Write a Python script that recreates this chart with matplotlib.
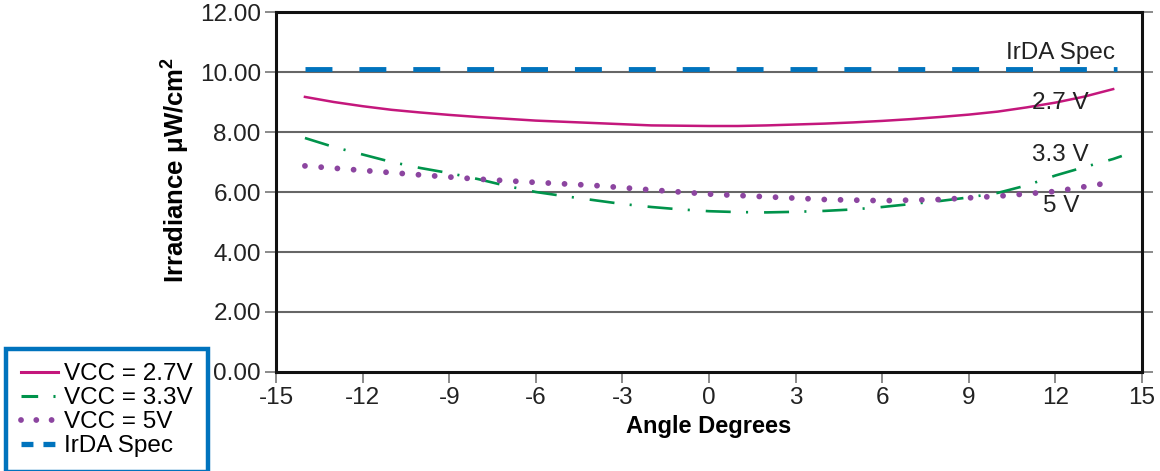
import matplotlib
matplotlib.use('Agg')
import matplotlib.pyplot as plt
from matplotlib.lines import Line2D

plt.rcParams['font.family'] = ['Liberation Sans', 'DejaVu Sans']
plt.rcParams['axes.unicode_minus'] = False
plt.rcParams['lines.scale_dashes'] = False
plt.rcParams['mathtext.fontset'] = 'custom'
plt.rcParams['mathtext.bf'] = 'Liberation Sans:bold'
plt.rcParams['mathtext.rm'] = 'Liberation Sans'

# VCC = 2.7V
x_27 = [-14, -13, -12, -11, -10, -9, -8, -7, -6, -5, -4, -3, -2, -1, 0,
        1, 2, 3, 4, 5, 6, 7, 8, 9, 10, 11, 12, 13, 14]
y_27 = [9.17, 9.0, 8.86, 8.74, 8.65, 8.57, 8.5, 8.44, 8.38, 8.34, 8.3, 8.26, 8.22, 8.21, 8.2,
        8.2, 8.22, 8.25, 8.28, 8.32, 8.37, 8.43, 8.5, 8.58, 8.68, 8.82, 8.98, 9.18, 9.43]

# VCC = 3.3V
x_33 = [-14, -13, -12, -11, -10, -9, -8, -7, -6, -5, -4, -3, -2, -1, 0, 1, 2, 3, 4, 5,
        6, 7, 8, 9, 10, 11, 12, 13, 14, 14.3]
y_33 = [7.8, 7.5, 7.25, 7.0, 6.8, 6.63, 6.43, 6.2, 6.0, 5.86, 5.73, 5.6, 5.5, 5.42, 5.36,
        5.33, 5.32, 5.34, 5.37, 5.42, 5.5, 5.6, 5.7, 5.82, 5.97, 6.22, 6.55, 6.83, 7.1, 7.2]

# VCC = 5V
x_5 = [-14, -12, -10, -8, -6, -4, -2, 0, 2, 4, 6, 8, 10, 12, 14]
y_5 = [6.87, 6.72, 6.57, 6.43, 6.32, 6.22, 6.07, 5.93, 5.84, 5.75, 5.71, 5.75, 5.86, 6.02, 6.33]

# IrDA spec
x_spec = [-14, 14.15]
y_spec = [10.1, 10.1]

xticks = [-15, -12, -9, -6, -3, 0, 3, 6, 9, 12, 15]
yticks = [0, 2, 4, 6, 8, 10, 12]
legend_labels = ['VCC = 2.7V', 'VCC = 3.3V', 'VCC = 5V', 'IrDA Spec']

magenta = '#C4177C'
green = '#00934B'
purple = '#8C45A0'
blue = '#0073BD'

fig = plt.figure(figsize=(11.6, 4.71), dpi=100)
ax = fig.add_axes([0.238, 0.2102, 0.7465, 0.7643])

for yv in yticks[1:-1]:
    ax.axhline(yv, color='#666666', lw=1.5, zorder=1)

ax.plot(x_spec, y_spec, color=blue, lw=3.5, dashes=(19.4, 19.4),
        dash_capstyle='butt', zorder=3)
ax.plot(x_27, y_27, color=magenta, lw=1.8, zorder=3)
ax.plot(x_33, y_33, color=green, lw=1.9, dashes=(18, 11, 1.5, 11.5),
        dash_capstyle='butt', zorder=3)
ax.plot(x_5, y_5, color=purple, lw=4.2, dashes=(0.01, 11.7), dash_capstyle='round',
        zorder=3)

ax.text(10.3, 10.63, 'IrDA Spec', fontsize=17.5, va='center', ha='left', color='#222222')
ax.text(11.19, 8.97, '2.7 V', fontsize=17.5, va='center', ha='left', color='#222222')
ax.text(11.19, 7.23, '3.3 V', fontsize=17.5, va='center', ha='left', color='#222222')
ax.text(11.57, 5.53, '5 V', fontsize=17.5, va='center', ha='left', color='#222222')

ax.set_xlim(-15, 15)
ax.set_ylim(0, 12)
ax.set_xticks(xticks)
ax.set_yticks(yticks)
ax.set_yticklabels(['%.2f' % v for v in yticks])
ax.tick_params(axis='both', direction='out', length=8, width=1.2, color='#777777',
               labelsize=17.5, labelcolor='#222222', pad=3)
ax.tick_params(axis='y', right=True)

for side in ['left', 'right', 'top', 'bottom']:
    ax.spines[side].set_linewidth(2.2)
    ax.spines[side].set_color('#111111')

ax.set_xlabel('Angle Degrees', fontsize=17, fontweight='bold', labelpad=4)
ax.set_ylabel(r'Irradiance μW/cm$^\mathbf{2}$', fontsize=18.5, fontweight='bold',
              y=0.56, labelpad=6)

# legend handles drawn with shorter patterns so they fit in the key
handles = [
    Line2D([], [], color=magenta, lw=2.2),
    Line2D([], [], color=green, lw=2.2, dashes=(12, 11, 1.5, 20), dash_capstyle='butt'),
    Line2D([], [], color=purple, lw=4.2, dashes=(0.01, 11), dash_capstyle='round'),
    Line2D([], [], color=blue, lw=3.8, dashes=(8.6, 7.2), dash_capstyle='butt'),
]
leg = fig.legend(handles, legend_labels,
                 loc='lower left', bbox_to_anchor=(0.001, -0.012), fontsize=17.5,
                 handlelength=1.55, handletextpad=0.25, labelspacing=0.08,
                 borderpad=0.6, frameon=True, fancybox=False, borderaxespad=0.2,
                 framealpha=1)
leg.get_frame().set_edgecolor(blue)
leg.get_frame().set_linewidth(3.2)

plt.savefig('out.png', dpi=100)
